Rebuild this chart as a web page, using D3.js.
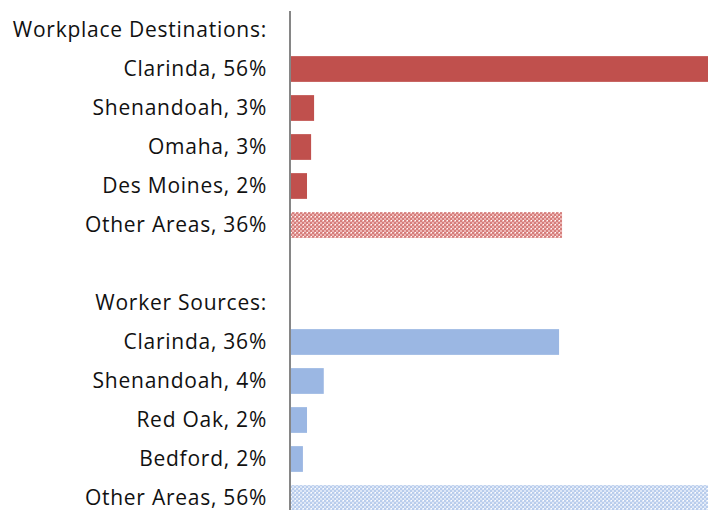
<!DOCTYPE html>
<html><head><meta charset="utf-8">
<script src="https://cdn.jsdelivr.net/npm/d3@7"></script>
<style>html,body{margin:0;padding:0;background:#fff;}svg{display:block;}</style>
</head><body>
<svg id="chart" width="708" height="510"></svg>
<script>
const labels = ["Workplace Destinations:", "Clarinda, 56%", "Shenandoah, 3%", "Omaha, 3%", "Des Moines, 2%", "Other Areas, 36%", "", "Worker Sources:", "Clarinda, 36%", "Shenandoah, 4%", "Red Oak, 2%", "Bedford, 2%", "Other Areas, 56%"];
const values = [null, 56, 3.1, 2.7, 2.15, 36.4, null, null, 36, 4.4, 2.15, 1.6, 56];
const groups = [null, "dest", "dest", "dest", "dest", "destOther", null, null, "src", "src", "src", "src", "srcOther"];
const colors = {dest: "#C0504D", src: "#9BB7E3"};

const svg = d3.select("#chart");
const defs = svg.append("defs");
function pattern(id, base, light) {
  const p = defs.append("pattern").attr("id", id).attr("patternUnits", "userSpaceOnUse")
    .attr("width", 4).attr("height", 4);
  p.append("rect").attr("width", 4).attr("height", 4).attr("fill", light);
  p.append("rect").attr("x", 0).attr("y", 0).attr("width", 2).attr("height", 2).attr("fill", base).attr("opacity", 0.55);
  p.append("rect").attr("x", 2).attr("y", 2).attr("width", 2).attr("height", 2).attr("fill", base).attr("opacity", 0.55);
  p.append("rect").attr("x", 3).attr("y", 0).attr("width", 1).attr("height", 1).attr("fill", "#fff");
}
pattern("pRed", "#C0504D", "#EDB5B4");
pattern("pBlue", "#9BB7E3", "#DDE7F7");

const fills = {dest: colors.dest, src: colors.src, destOther: "url(#pRed)", srcOther: "url(#pBlue)"};

const x = d3.scaleLinear().domain([0, 56]).range([291, 708]);
const y = d3.scaleBand().domain(d3.range(labels.length)).range([10.5, 517.5]).paddingInner(0.34).paddingOuter(0.17);

svg.append("g").selectAll("rect").data(values.map((v, i) => ({v, i}))).join("rect")
  .filter(d => d.v != null)
  .attr("x", x(0))
  .attr("y", d => y(d.i))
  .attr("width", d => x(d.v) - x(0))
  .attr("height", y.bandwidth())
  .attr("fill", d => fills[groups[d.i]]);

const yAxis = d3.axisLeft(y).tickSize(0).tickFormat(i => labels[i]);
const ag = svg.append("g").attr("transform", "translate(290,0)").call(yAxis);
ag.select(".domain").attr("d", "M0,11V510").attr("stroke", "#868686").attr("stroke-width", 2);
ag.selectAll(".tick text").attr("x", -23).attr("dy", "0.34em")
  .attr("font-family", "'Open Sans', sans-serif").attr("font-size", 21)
  .attr("letter-spacing", "0.75px").attr("fill", "#111");
</script>
</body></html>
